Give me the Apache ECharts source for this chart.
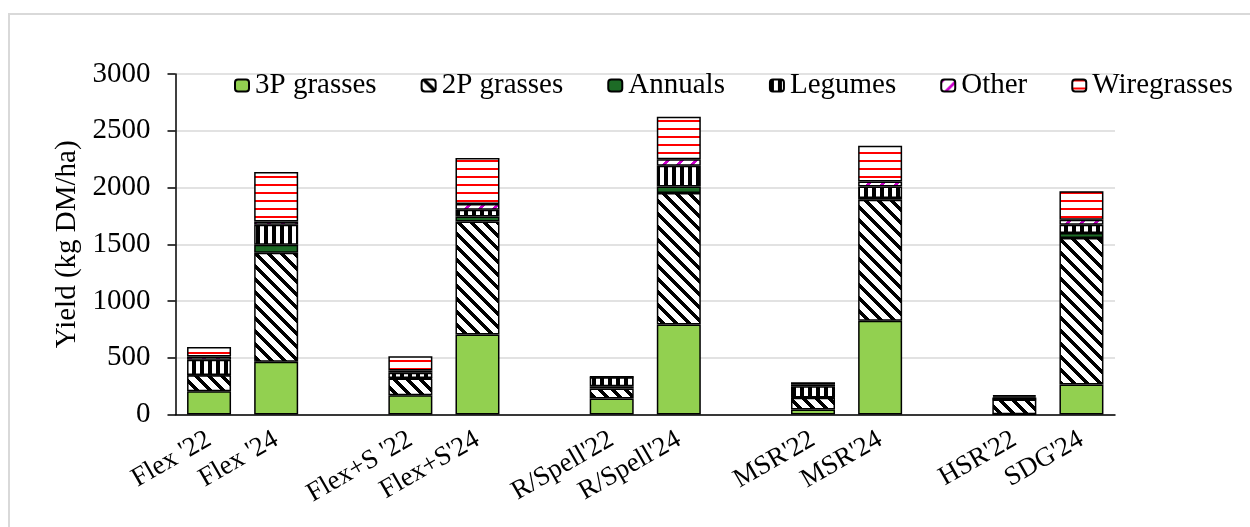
<!DOCTYPE html>
<html><head><meta charset="utf-8">
<script src="https://cdn.jsdelivr.net/npm/echarts@6/dist/echarts.min.js"></script>
<style>html,body{margin:0;padding:0;background:#fff}#c{width:1250px;height:527px}</style>
</head><body><div id="c"></div>
<script>
// ---- data ----
const categories = ["Flex '22","Flex '24","Flex+S '22","Flex+S'24","R/Spell'22","R/Spell'24","MSR'22","MSR'24","HSR'22","SDG'24"];
const seriesNames = ["3P grasses","2P grasses","Annuals","Legumes","Other","Wiregrasses"];
const grasses3P   = [205, 464, 170, 704, 141, 792, 44, 827, 3, 264];
const grasses2P   = [141, 962, 147, 997, 88, 1159, 103, 1065, 129, 1291];
const annuals     = [3, 70, 5, 44, 20, 58, 3, 15, 2, 44];
const legumes     = [133, 176, 45, 59, 80, 182, 99, 102, 15, 73];
const other       = [29, 29, 20, 50, 3, 59, 18, 44, 12, 44];
const wiregrasses = [83, 435, 126, 406, 3, 373, 18, 315, 10, 252];
const yTicks = [0, 500, 1000, 1500, 2000, 2500, 3000];

// ---- helpers ----
// insert an empty slot between each pair of categories (group gap)
function spread(arr, blank) {
  const out = [];
  arr.forEach((v, i) => { out.push(v); if (i % 2 === 1 && i < arr.length - 1) out.push(blank); });
  return out;
}
function makePattern(w, h, bg, fg, test) {
  const c = document.createElement('canvas'); c.width = w; c.height = h;
  const ctx = c.getContext('2d'); ctx.fillStyle = bg; ctx.fillRect(0, 0, w, h);
  ctx.fillStyle = fg;
  for (let y = 0; y < h; y++) for (let x = 0; x < w; x++) if (test(x, y)) ctx.fillRect(x, y, 1, 1);
  return { image: c, repeat: 'repeat' };
}
const FONT = "'Times New Roman','Liberation Serif',serif";
const fills = [
  '#92d050',
  makePattern(13, 13, '#ffffff', '#000000', (x, y) => (((x - y) % 13) + 13) % 13 < 5),
  '#1d6b26',
  makePattern(8, 8, '#ffffff', '#000000', (x, y) => x < 4),
  makePattern(14, 14, '#ffffff', '#cc00cc', (x, y) => ((x + y) % 14) < 4),
  makePattern(8, 8, '#ffffff', '#ff0000', (x, y) => y < 2)
];
const values = [grasses3P, grasses2P, annuals, legumes, other, wiregrasses];

const chart = echarts.init(document.getElementById('c'), null, { renderer: 'canvas' });
chart.setOption({
  animation: false,
  backgroundColor: '#ffffff',
  graphic: [{
    type: 'rect', z: -10, silent: true,
    shape: { x: 9, y: 14, width: 1270, height: 540 },
    style: { fill: 'none', stroke: '#d9d9d9', lineWidth: 2 }
  }],
  grid: { left: 175.5, right: 135, top: 74, bottom: 112.5, containLabel: false },
  legend: {
    left: 229, top: 66, padding: 5,
    itemWidth: 14, itemHeight: 12, itemGap: 44,
    textStyle: { fontFamily: FONT, fontSize: 29, color: '#000', padding: [0, 0, 0, 1] },
    data: seriesNames
  },
  xAxis: {
    type: 'category',
    data: spread(categories, ''),
    axisLine: { lineStyle: { color: '#000', width: 1.5 } },
    axisTick: { show: false },
    axisLabel: { interval: 0, rotate: 30, margin: 23, fontFamily: FONT, fontSize: 27, color: '#000' }
  },
  yAxis: {
    type: 'value', min: yTicks[0], max: yTicks[yTicks.length - 1], interval: yTicks[1] - yTicks[0],
    name: 'Yield (kg DM/ha)', nameLocation: 'middle', nameGap: 92, nameRotate: 90,
    nameTextStyle: { fontFamily: FONT, fontSize: 29, color: '#000' },
    axisLine: { show: true, lineStyle: { color: '#000', width: 1.5 } },
    axisTick: { show: true, length: 8, lineStyle: { color: '#000', width: 1.5 } },
    axisLabel: { margin: 25, fontFamily: FONT, fontSize: 29, color: '#000', formatter: v => String(v) },
    splitLine: { lineStyle: { color: '#d9d9d9', width: 1.5 } }
  },
  series: seriesNames.map((name, i) => ({
    name, type: 'bar', stack: 'total', barWidth: 44,
    data: spread(values[i], null),
    itemStyle: { color: fills[i], borderColor: '#000', borderWidth: 1.5 },
    emphasis: { disabled: true }
  }))
});
</script>
</body></html>
